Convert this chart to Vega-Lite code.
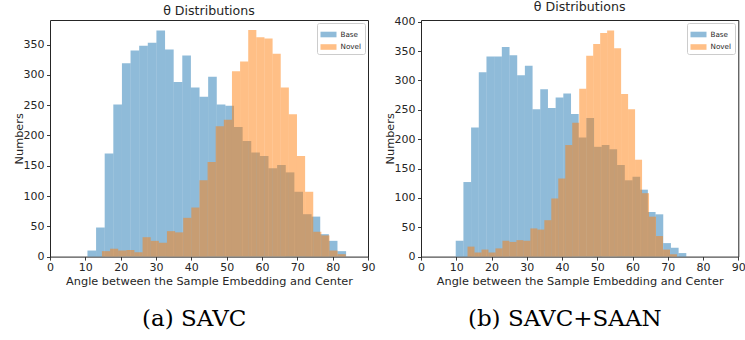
{
  "$schema": "https://vega.github.io/schema/vega-lite/v6.json",
  "background": "white",
  "padding": {"left": 12, "top": 0, "right": 0, "bottom": 0},
  "spacing": 7,
  "datasets": {
    "a": [
      {"series": "Base", "x0": 10.6, "x1": 13.04, "n": 10},
      {"series": "Base", "x0": 13.04, "x1": 15.48, "n": 48},
      {"series": "Base", "x0": 15.48, "x1": 17.92, "n": 170},
      {"series": "Base", "x0": 17.92, "x1": 20.36, "n": 251},
      {"series": "Base", "x0": 20.36, "x1": 22.8, "n": 319},
      {"series": "Base", "x0": 22.8, "x1": 25.24, "n": 340},
      {"series": "Base", "x0": 25.24, "x1": 27.68, "n": 348},
      {"series": "Base", "x0": 27.68, "x1": 30.12, "n": 353},
      {"series": "Base", "x0": 30.12, "x1": 32.56, "n": 373},
      {"series": "Base", "x0": 32.56, "x1": 35.0, "n": 342},
      {"series": "Base", "x0": 35.0, "x1": 37.44, "n": 288},
      {"series": "Base", "x0": 37.44, "x1": 39.88, "n": 332},
      {"series": "Base", "x0": 39.88, "x1": 42.32, "n": 279},
      {"series": "Base", "x0": 42.32, "x1": 44.76, "n": 264},
      {"series": "Base", "x0": 44.76, "x1": 47.2, "n": 297},
      {"series": "Base", "x0": 47.2, "x1": 49.64, "n": 251},
      {"series": "Base", "x0": 49.64, "x1": 52.08, "n": 249},
      {"series": "Base", "x0": 52.08, "x1": 54.52, "n": 214},
      {"series": "Base", "x0": 54.52, "x1": 56.96, "n": 191},
      {"series": "Base", "x0": 56.96, "x1": 59.4, "n": 172},
      {"series": "Base", "x0": 59.4, "x1": 61.84, "n": 166},
      {"series": "Base", "x0": 61.84, "x1": 64.28, "n": 146},
      {"series": "Base", "x0": 64.28, "x1": 66.72, "n": 151},
      {"series": "Base", "x0": 66.72, "x1": 69.16, "n": 139},
      {"series": "Base", "x0": 69.16, "x1": 71.6, "n": 107},
      {"series": "Base", "x0": 71.6, "x1": 74.04, "n": 70},
      {"series": "Base", "x0": 74.04, "x1": 76.48, "n": 66},
      {"series": "Base", "x0": 76.48, "x1": 78.92, "n": 37},
      {"series": "Base", "x0": 78.92, "x1": 81.36, "n": 26},
      {"series": "Base", "x0": 81.36, "x1": 83.8, "n": 9},
      {"series": "Novel", "x0": 14.7, "x1": 17.0, "n": 9},
      {"series": "Novel", "x0": 17.0, "x1": 19.3, "n": 13},
      {"series": "Novel", "x0": 19.3, "x1": 21.6, "n": 10},
      {"series": "Novel", "x0": 21.6, "x1": 23.9, "n": 11},
      {"series": "Novel", "x0": 23.9, "x1": 26.2, "n": 7},
      {"series": "Novel", "x0": 26.2, "x1": 28.5, "n": 32},
      {"series": "Novel", "x0": 28.5, "x1": 30.8, "n": 26},
      {"series": "Novel", "x0": 30.8, "x1": 33.1, "n": 23},
      {"series": "Novel", "x0": 33.1, "x1": 35.4, "n": 42},
      {"series": "Novel", "x0": 35.4, "x1": 37.7, "n": 40},
      {"series": "Novel", "x0": 37.7, "x1": 40.0, "n": 64},
      {"series": "Novel", "x0": 40.0, "x1": 42.3, "n": 81},
      {"series": "Novel", "x0": 42.3, "x1": 44.6, "n": 126},
      {"series": "Novel", "x0": 44.6, "x1": 46.9, "n": 156},
      {"series": "Novel", "x0": 46.9, "x1": 49.2, "n": 215},
      {"series": "Novel", "x0": 49.2, "x1": 51.5, "n": 226},
      {"series": "Novel", "x0": 51.5, "x1": 53.8, "n": 306},
      {"series": "Novel", "x0": 53.8, "x1": 56.1, "n": 322},
      {"series": "Novel", "x0": 56.1, "x1": 58.4, "n": 374},
      {"series": "Novel", "x0": 58.4, "x1": 60.7, "n": 362},
      {"series": "Novel", "x0": 60.7, "x1": 63.0, "n": 360},
      {"series": "Novel", "x0": 63.0, "x1": 65.3, "n": 335},
      {"series": "Novel", "x0": 65.3, "x1": 67.6, "n": 279},
      {"series": "Novel", "x0": 67.6, "x1": 69.9, "n": 235},
      {"series": "Novel", "x0": 69.9, "x1": 72.2, "n": 166},
      {"series": "Novel", "x0": 72.2, "x1": 74.5, "n": 107},
      {"series": "Novel", "x0": 74.5, "x1": 76.8, "n": 41},
      {"series": "Novel", "x0": 76.8, "x1": 79.1, "n": 35},
      {"series": "Novel", "x0": 79.1, "x1": 81.4, "n": 10},
      {"series": "Novel", "x0": 81.4, "x1": 83.7, "n": 4}
    ],
    "b": [
      {"series": "Base", "x0": 9.85, "x1": 12.03, "n": 27},
      {"series": "Base", "x0": 12.03, "x1": 14.21, "n": 127},
      {"series": "Base", "x0": 14.21, "x1": 16.39, "n": 220},
      {"series": "Base", "x0": 16.39, "x1": 18.57, "n": 314},
      {"series": "Base", "x0": 18.57, "x1": 20.75, "n": 341},
      {"series": "Base", "x0": 20.75, "x1": 22.93, "n": 341},
      {"series": "Base", "x0": 22.93, "x1": 25.11, "n": 357},
      {"series": "Base", "x0": 25.11, "x1": 27.29, "n": 343},
      {"series": "Base", "x0": 27.29, "x1": 29.47, "n": 309},
      {"series": "Base", "x0": 29.47, "x1": 31.65, "n": 325},
      {"series": "Base", "x0": 31.65, "x1": 33.83, "n": 251},
      {"series": "Base", "x0": 33.83, "x1": 36.01, "n": 285},
      {"series": "Base", "x0": 36.01, "x1": 38.19, "n": 253},
      {"series": "Base", "x0": 38.19, "x1": 40.37, "n": 271},
      {"series": "Base", "x0": 40.37, "x1": 42.55, "n": 278},
      {"series": "Base", "x0": 42.55, "x1": 44.73, "n": 243},
      {"series": "Base", "x0": 44.73, "x1": 46.91, "n": 203},
      {"series": "Base", "x0": 46.91, "x1": 49.09, "n": 236},
      {"series": "Base", "x0": 49.09, "x1": 51.27, "n": 187},
      {"series": "Base", "x0": 51.27, "x1": 53.45, "n": 190},
      {"series": "Base", "x0": 53.45, "x1": 55.63, "n": 183},
      {"series": "Base", "x0": 55.63, "x1": 57.81, "n": 156},
      {"series": "Base", "x0": 57.81, "x1": 59.99, "n": 130},
      {"series": "Base", "x0": 59.99, "x1": 62.17, "n": 136},
      {"series": "Base", "x0": 62.17, "x1": 64.35, "n": 114},
      {"series": "Base", "x0": 64.35, "x1": 66.53, "n": 76},
      {"series": "Base", "x0": 66.53, "x1": 68.71, "n": 72},
      {"series": "Base", "x0": 68.71, "x1": 70.89, "n": 23},
      {"series": "Base", "x0": 70.89, "x1": 73.07, "n": 15},
      {"series": "Base", "x0": 73.07, "x1": 75.25, "n": 6},
      {"series": "Novel", "x0": 13.2, "x1": 15.18, "n": 17},
      {"series": "Novel", "x0": 15.18, "x1": 17.16, "n": 7},
      {"series": "Novel", "x0": 17.16, "x1": 19.14, "n": 12},
      {"series": "Novel", "x0": 19.14, "x1": 21.12, "n": 7},
      {"series": "Novel", "x0": 21.12, "x1": 23.1, "n": 14},
      {"series": "Novel", "x0": 23.1, "x1": 25.08, "n": 27},
      {"series": "Novel", "x0": 25.08, "x1": 27.06, "n": 25},
      {"series": "Novel", "x0": 27.06, "x1": 29.04, "n": 28},
      {"series": "Novel", "x0": 29.04, "x1": 31.02, "n": 27},
      {"series": "Novel", "x0": 31.02, "x1": 33.0, "n": 48},
      {"series": "Novel", "x0": 33.0, "x1": 34.98, "n": 46},
      {"series": "Novel", "x0": 34.98, "x1": 36.96, "n": 62},
      {"series": "Novel", "x0": 36.96, "x1": 38.94, "n": 99},
      {"series": "Novel", "x0": 38.94, "x1": 40.92, "n": 133},
      {"series": "Novel", "x0": 40.92, "x1": 42.9, "n": 190},
      {"series": "Novel", "x0": 42.9, "x1": 44.88, "n": 228},
      {"series": "Novel", "x0": 44.88, "x1": 46.86, "n": 286},
      {"series": "Novel", "x0": 46.86, "x1": 48.84, "n": 342},
      {"series": "Novel", "x0": 48.84, "x1": 50.82, "n": 362},
      {"series": "Novel", "x0": 50.82, "x1": 52.8, "n": 381},
      {"series": "Novel", "x0": 52.8, "x1": 54.78, "n": 385},
      {"series": "Novel", "x0": 54.78, "x1": 56.76, "n": 355},
      {"series": "Novel", "x0": 56.76, "x1": 58.74, "n": 277},
      {"series": "Novel", "x0": 58.74, "x1": 60.72, "n": 251},
      {"series": "Novel", "x0": 60.72, "x1": 62.7, "n": 165},
      {"series": "Novel", "x0": 62.7, "x1": 64.68, "n": 108},
      {"series": "Novel", "x0": 64.68, "x1": 66.66, "n": 68},
      {"series": "Novel", "x0": 66.66, "x1": 68.64, "n": 35},
      {"series": "Novel", "x0": 68.64, "x1": 70.62, "n": 12},
      {"series": "Novel", "x0": 70.62, "x1": 72.6, "n": 4}
    ]
  },
  "hconcat": [
    {
      "title": {"text": "(a) SAVC", "orient": "bottom", "anchor": "middle", "font": "DejaVu Serif", "fontSize": 23, "fontWeight": "normal", "color": "black", "offset": 21},
      "resolve": {"scale": {"color": "independent"}, "legend": {"color": "independent"}},
      "vconcat": [
        {
          "width": 318,
          "height": 236.6,
          "title": {"text": "θ Distributions", "font": "DejaVu Sans", "fontSize": 12.6, "fontWeight": "normal", "color": "#262626", "offset": 2.5},
          "data": {"name": "a"},
          "mark": {"type": "bar", "opacity": 0.5, "strokeWidth": 0},
          "encoding": {
            "x": {"field": "x0", "type": "quantitative", "scale": {"domain": [0, 90], "nice": false, "zero": false},
                  "axis": {"values": [0, 10, 20, 30, 40, 50, 60, 70, 80, 90], "title": "Angle between the Sample Embedding and Center"}},
            "x2": {"field": "x1"},
            "y": {"field": "n", "type": "quantitative", "stack": null, "scale": {"domain": [0, 390.5], "nice": false},
                  "axis": {"values": [0, 50, 100, 150, 200, 250, 300, 350], "title": "Numbers"}},
            "y2": {"datum": 0},
            "color": {"field": "series", "type": "nominal", "scale": {"domain": ["Base", "Novel"], "range": ["#1f77b4", "#ff7f0e"]},
                      "legend": {"orient": "top-right", "offset": 3, "title": null, "padding": 3.5, "rowPadding": 0.5,
                                 "fillColor": "white", "strokeColor": "#cccccc", "cornerRadius": 2,
                                 "labelFont": "DejaVu Sans", "labelFontSize": 7.2, "labelColor": "#262626", "labelOffset": 4,
                                 "symbolType": "M-1,-0.35H1V0.35H-1Z", "symbolSize": 256, "symbolOpacity": 0.5, "symbolStrokeWidth": 0}}
          }
        }
      ]
    },
    {
      "title": {"text": "(b) SAVC+SAAN", "orient": "bottom", "anchor": "middle", "font": "DejaVu Serif", "fontSize": 23, "fontWeight": "normal", "color": "black", "offset": 21},
      "resolve": {"scale": {"color": "independent"}, "legend": {"color": "independent"}},
      "vconcat": [
        {
          "width": 317.3,
          "height": 236.6,
          "title": {"text": "θ Distributions", "font": "DejaVu Sans", "fontSize": 12.6, "fontWeight": "normal", "color": "#262626", "offset": 2.5},
          "data": {"name": "b"},
          "mark": {"type": "bar", "opacity": 0.5, "strokeWidth": 0},
          "encoding": {
            "x": {"field": "x0", "type": "quantitative", "scale": {"domain": [0, 90], "nice": false, "zero": false},
                  "axis": {"values": [0, 10, 20, 30, 40, 50, 60, 70, 80, 90], "title": "Angle between the Sample Embedding and Center"}},
            "x2": {"field": "x1"},
            "y": {"field": "n", "type": "quantitative", "stack": null, "scale": {"domain": [0, 403], "nice": false},
                  "axis": {"values": [0, 50, 100, 150, 200, 250, 300, 350, 400], "title": "Numbers"}},
            "y2": {"datum": 0},
            "color": {"field": "series", "type": "nominal", "scale": {"domain": ["Base", "Novel"], "range": ["#1f77b4", "#ff7f0e"]},
                      "legend": {"orient": "top-right", "offset": 3, "title": null, "padding": 3.5, "rowPadding": 0.5,
                                 "fillColor": "white", "strokeColor": "#cccccc", "cornerRadius": 2,
                                 "labelFont": "DejaVu Sans", "labelFontSize": 7.2, "labelColor": "#262626", "labelOffset": 4,
                                 "symbolType": "M-1,-0.35H1V0.35H-1Z", "symbolSize": 256, "symbolOpacity": 0.5, "symbolStrokeWidth": 0}}
          }
        }
      ]
    }
  ],
  "resolve": {"scale": {"color": "independent"}, "legend": {"color": "independent"}},
  "config": {
    "view": {"stroke": "#262626", "strokeWidth": 1},
    "axis": {"domain": false, "grid": false, "tickColor": "#262626", "tickSize": 3.5, "tickWidth": 0.9,
             "labelFont": "DejaVu Sans", "labelFontSize": 11, "labelColor": "#262626",
             "titleFont": "DejaVu Sans", "titleFontSize": 11.3, "titleFontWeight": "normal", "titleColor": "#262626",
             "labelFlush": false, "labelOverlap": false},
    "axisX": {"labelPadding": 1.5, "titlePadding": 3, "labelAngle": 0},
    "axisY": {"labelPadding": 2.5, "minExtent": 22, "maxExtent": 22, "titlePadding": 3.7}
  }
}
